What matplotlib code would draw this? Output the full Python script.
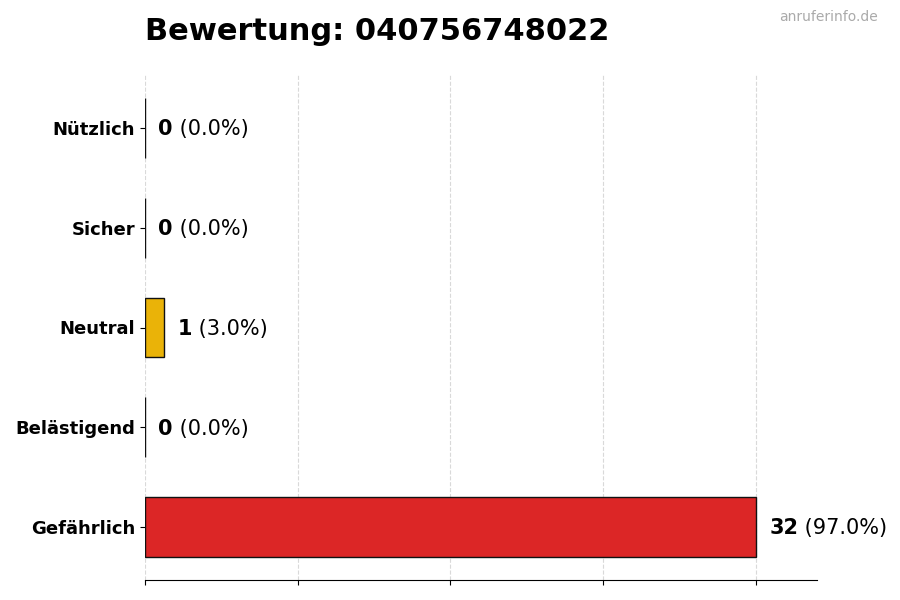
import matplotlib
matplotlib.use("Agg")
import matplotlib.pyplot as plt

categories = ["Gefährlich", "Belästigend", "Neutral", "Sicher", "Nützlich"]
values = [32, 0, 1, 0, 0]
colors = ["#dc2626", "#9ca3af", "#eab308", "#22c55e", "#16a34a"]
total = sum(values)

fig = plt.figure(figsize=(9, 6), dpi=100)
ax = fig.add_axes([145/900, 20/600, 672/900, 505/600])
ax.barh(range(len(categories)), values, height=0.6, color=colors,
        edgecolor="#111111", linewidth=1, zorder=3)
ax.set_yticks(range(len(categories)))
ax.set_yticklabels(categories, fontsize=13, fontweight="bold")
ax.set_xlim(0, max(values) * 1.1)
ax.set_xticks([0, 8, 16, 24, 32])
ax.set_xticklabels([])
ax.grid(axis="x", linestyle="--", color="#d9d9d9", linewidth=0.8, zorder=0)
for s in ["top", "right", "left"]:
    ax.spines[s].set_visible(False)

for i, v in enumerate(values):
    pct = v / total * 100
    t1 = ax.annotate(f"{v}", (v, i), xytext=(9.5, -1), textcoords="offset points",
                     va="center", ha="left", fontsize=15, fontweight="bold")
    ax.annotate(f" ({pct:.1f}%)", xy=(1, 0.5), xycoords=t1, va="center", ha="left",
                fontsize=15)

fig.text(145/900, 1 - 31/600, "Bewertung: 040756748022", fontsize=22,
         fontweight="bold", va="center", ha="left")
fig.text(878/900, 1 - 17/600, "anruferinfo.de", fontsize=10, color="#aaaaaa",
         ha="right", va="center")

fig.savefig("out.png", dpi=100)
